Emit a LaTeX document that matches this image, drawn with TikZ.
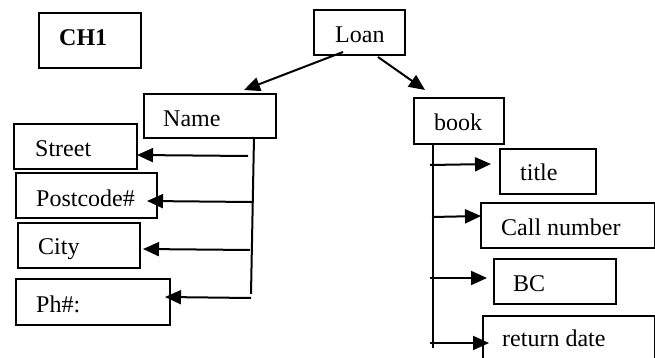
\documentclass[tikz,border=0pt]{standalone}
\usepackage{fontspec}
\setmainfont{Liberation Serif}
\usetikzlibrary{arrows.meta}
\begin{document}
\begin{tikzpicture}[x=1pt,y=-1pt,
  box/.style={draw,line width=2pt,inner sep=0pt,anchor=north west},
  lbl/.style={inner sep=0pt,anchor=base west,font=\fontsize{24}{28}\selectfont},
  arr/.style={line width=2pt,-{Triangle[length=16pt,width=14pt]}},
  trunk/.style={line width=2pt}]
\useasboundingbox (0,0) rectangle (655,358);

% top boxes
\node[box,minimum width=102pt,minimum height=55pt] (ch1) at (38,12) {};
\node[lbl,font=\fontsize{24}{28}\selectfont\bfseries] (ch1t) at (59,46) {CH1};
\node[box,minimum width=91pt,minimum height=45pt] (loan) at (313,9) {};
\node[lbl] (loant) at (335,43) {Loan};

% second level
\node[box,minimum width=132pt,minimum height=44pt] (name) at (143,93) {};
\node[lbl] (namet) at (163,127) {Name};
\node[box,minimum width=90pt,minimum height=46pt] (book) at (413,97) {};
\node[lbl] (bookt) at (434,131) {book};

% name attributes
\node[box,minimum width=123pt,minimum height=45pt] (street) at (13,123) {};
\node[lbl] (streett) at (35,157) {Street};
\node[box,minimum width=141pt,minimum height=45pt] (post) at (15,172) {};
\node[lbl] (postt) at (36,206) {Postcode\#};
\node[box,minimum width=122pt,minimum height=45pt] (city) at (17,222) {};
\node[lbl] (cityt) at (38,254) {City};
\node[box,minimum width=154pt,minimum height=46pt] (ph) at (15,278) {};
\node[lbl] (pht) at (36,312) {Ph\#:};

% book attributes
\node[box,minimum width=96pt,minimum height=45pt] (title) at (499,148) {};
\node[lbl] (titlet) at (520,180) {title};
\node[box,minimum width=174pt,minimum height=45pt] (call) at (480,202) {};
\node[lbl] (callt) at (501,235) {Call number};
\node[box,minimum width=122pt,minimum height=45pt] (bc) at (493,258) {};
\node[lbl] (bct) at (513,291) {BC};
\node[box,minimum width=172pt,minimum height=48pt] (ret) at (482,315) {};
\node[lbl] (rett) at (502,346) {return date};

% connector end points
\coordinate (l1) at (343,52);
\coordinate (n1) at (244,90);
\coordinate (l2) at (378,57);
\coordinate (b1) at (425,90);

\coordinate (ntop) at (254,137);
\coordinate (nbot) at (251,294);
\coordinate (s0) at (248,156);  \coordinate (s1) at (137,155);
\coordinate (p0) at (252,202);  \coordinate (p1) at (147,201);
\coordinate (c0) at (250,250);  \coordinate (c1) at (143,249);
\coordinate (h0) at (251,298);  \coordinate (h1) at (165,297);

\coordinate (btop) at (433,143);
\coordinate (bbot) at (433,348);
\coordinate (t0) at (430,165);  \coordinate (t1) at (491,164);
\coordinate (k0) at (432,217);  \coordinate (k1) at (481,216);
\coordinate (x0) at (430,278);  \coordinate (x1) at (487,278);
\coordinate (r0) at (430,343);  \coordinate (r1) at (489,343);

% Loan to its parts
\draw[arr] (l1) -- (n1);
\draw[arr] (l2) -- (b1);

% Name branch
\draw[trunk] (ntop) -- (nbot);
\draw[arr] (s0) -- (s1);
\draw[arr] (p0) -- (p1);
\draw[arr] (c0) -- (c1);
\draw[arr] (h0) -- (h1);

% book branch
\draw[trunk] (btop) -- (bbot);
\draw[arr] (t0) -- (t1);
\draw[arr] (k0) -- (k1);
\draw[arr] (x0) -- (x1);
\draw[arr] (r0) -- (r1);
\end{tikzpicture}
\end{document}
